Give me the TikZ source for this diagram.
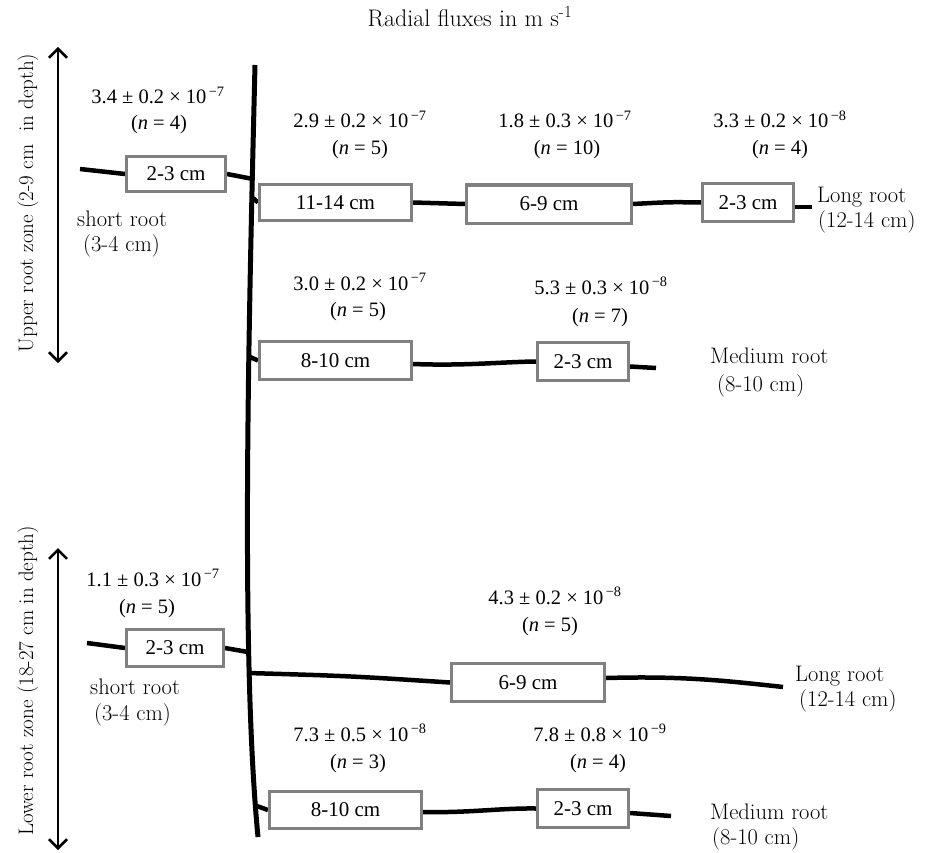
\documentclass[tikz,border=0pt]{standalone}
\usepackage{fontspec}
\newfontfamily\tms{Liberation Serif}
\usetikzlibrary{arrows.meta,backgrounds,calc}
\definecolor{boxgray}{RGB}{128,128,128}
\tikzset{
  root/.style={line width=4.5pt, black},
  stem/.style={line width=5pt, black},
  seg/.style={draw=boxgray, line width=3pt, fill=white, inner sep=0pt, font=\tms\fontsize{21}{24}\selectfont},
  val/.style={anchor=base, inner sep=0pt, font=\tms\fontsize{20.5}{24}\selectfont},
  lab/.style={anchor=base west, inner sep=0pt, font=\fontsize{22.5}{26}\selectfont},
  zonelab/.style={anchor=base, rotate=90, inner sep=0pt, font=\fontsize{21}{24}\selectfont},
  zarrow/.style={line width=2.5pt, {Straight Barb[length=9pt,width=18pt]}-{Straight Barb[length=9pt,width=18pt]}},
}
\newcommand{\fx}[2]{#1\textsuperscript{\,−#2}}
\begin{document}
\begin{tikzpicture}[x=1pt,y=-1pt]
\useasboundingbox (0,0) rectangle (936,853);

% title
\node[anchor=base, inner sep=0pt, font=\fontsize{24}{28}\selectfont] (title) at (470,27) {Radial fluxes in m s\textsuperscript{-1}};

% zone arrows and labels
\coordinate (ua1) at (58,47);
\coordinate (ua2) at (58,363);
\coordinate (la1) at (58,548);
\coordinate (la2) at (58,850);
\draw[zarrow] (ua1) -- (ua2);
\draw[zarrow] (la1) -- (la2);
\node[zonelab] (uz) at (33,203) {Upper root zone (2-9 cm\ \ in depth)};
\node[zonelab] (lz) at (33,681) {Lower root zone (18-27 cm in depth)};

% stem coordinates
\coordinate (stop) at (255,65);
\coordinate (sbot) at (258,837);
\coordinate (s1) at (253,179);
\coordinate (s2) at (253,198);
\coordinate (s3) at (250,357);
\coordinate (s4) at (248,652);
\coordinate (s5) at (248,673);
\coordinate (s6) at (254,805);

% free ends
\coordinate (e1) at (80,169);
\coordinate (e2) at (812,207);
\coordinate (e3) at (656,368);
\coordinate (e4) at (87,643);
\coordinate (e5) at (783,687);
\coordinate (e6) at (671,816);

% boxes
\node[seg, minimum width=99pt, minimum height=35pt] (b1) at (176,174) {2-3 cm};
\node[seg, minimum width=152pt, minimum height=36pt] (b2) at (335.5,202.5) {11-14 cm};
\node[seg, minimum width=165pt, minimum height=38pt] (b3) at (549,204) {6-9 cm};
\node[seg, minimum width=91pt, minimum height=38pt] (b4) at (748,202.5) {2-3 cm};
\node[seg, minimum width=152pt, minimum height=38pt] (b5) at (335.5,360.5) {8-10 cm};
\node[seg, minimum width=91pt, minimum height=38pt] (b6) at (583,361.5) {2-3 cm};
\node[seg, minimum width=97pt, minimum height=37pt] (b7) at (175,648) {2-3 cm};
\node[seg, minimum width=153pt, minimum height=38pt] (b8) at (528,682.5) {6-9 cm};
\node[seg, minimum width=152pt, minimum height=37pt] (b9) at (345.5,810) {8-10 cm};
\node[seg, minimum width=91pt, minimum height=38pt] (b10) at (583,808.5) {2-3 cm};

\begin{scope}[on background layer]
\draw[stem] (stop) .. controls (248,350) and (241,660) .. (sbot);
\draw[root] (e1) -- (b1.west);
\draw[root] (b1.east) -- (s1);
\draw[root] (s2) -- (b2.west);
\draw[root] (b2.east) -- (b3.west);
\draw[root] (b3.east) .. controls (670,202) .. (b4.west);
\draw[root] ($(b4.east)+(0,4.5)$) -- (e2);
\draw[root] (s3) -- (b5.west);
\draw[root] ($(b5.east)+(0,3.5)$) .. controls (465,366) and (500,362) .. (b6.west);
\draw[root] ($(b6.east)+(0,5)$) -- (e3);
\draw[root] (e4) -- (b7.west);
\draw[root] (b7.east) -- (s4);
\draw[root] (s5) .. controls (350,676) .. (b8.west);
\draw[root] ($(b8.east)+(0,-4.5)$) .. controls (680,676) and (720,680) .. (e5);
\draw[root] (s6) -- (b9.west);
\draw[root] ($(b9.east)+(0,2)$) .. controls (470,813) and (500,808) .. (b10.west);
\draw[root] ($(b10.east)+(0,4.5)$) -- (e6);
\end{scope}

% flux values
\node[val] (v1) at (158,104) {\fx{3.4 ± 0.2 × 10}{7}};
\node[val] (n1) at (159,130) {(\textit{n} = 4)};
\node[val] (v2) at (360,128) {\fx{2.9 ± 0.2 × 10}{7}};
\node[val] (n2) at (360,155) {(\textit{n} = 5)};
\node[val] (v3) at (565,128) {\fx{1.8 ± 0.3 × 10}{7}};
\node[val] (n3) at (567,155) {(\textit{n} = 10)};
\node[val] (v4) at (780,128) {\fx{3.3 ± 0.2 × 10}{8}};
\node[val] (n4) at (780,155) {(\textit{n} = 4)};
\node[val] (v5) at (360,290) {\fx{3.0 ± 0.2 × 10}{7}};
\node[val] (n5) at (358,316) {(\textit{n} = 5)};
\node[val] (v6) at (601,294) {\fx{5.3 ± 0.3 × 10}{8}};
\node[val] (n6) at (600,322) {(\textit{n} = 7)};
\node[val] (v7) at (153,586) {\fx{1.1 ± 0.3 × 10}{7}};
\node[val] (n7) at (147,613) {(\textit{n} = 5)};
\node[val] (v8) at (555,604) {\fx{4.3 ± 0.2 × 10}{8}};
\node[val] (n8) at (550,631) {(\textit{n} = 5)};
\node[val] (v9) at (360,741) {\fx{7.3 ± 0.5 × 10}{8}};
\node[val] (n9) at (358,768) {(\textit{n} = 3)};
\node[val] (v10) at (600,741) {\fx{7.8 ± 0.8 × 10}{9}};
\node[val] (n10) at (598,768) {(\textit{n} = 4)};

% root labels
\node[lab] (l1) at (77,226) {short root};
\node[lab] (l1b) at (83,251) {(3-4 cm)};
\node[lab] (l2) at (817,202) {Long root};
\node[lab] (l2b) at (818,227) {(12-14 cm)};
\node[lab] (l3) at (710,363) {Medium root};
\node[lab] (l3b) at (717,391) {(8-10 cm)};
\node[lab] (l4) at (90,694) {short root};
\node[lab] (l4b) at (94,720) {(3-4 cm)};
\node[lab] (l5) at (795,681) {Long root};
\node[lab] (l5b) at (799,706) {(12-14 cm)};
\node[lab] (l6) at (710,819) {Medium root};
\node[lab] (l6b) at (712,844) {(8-10 cm)};
\end{tikzpicture}
\end{document}
